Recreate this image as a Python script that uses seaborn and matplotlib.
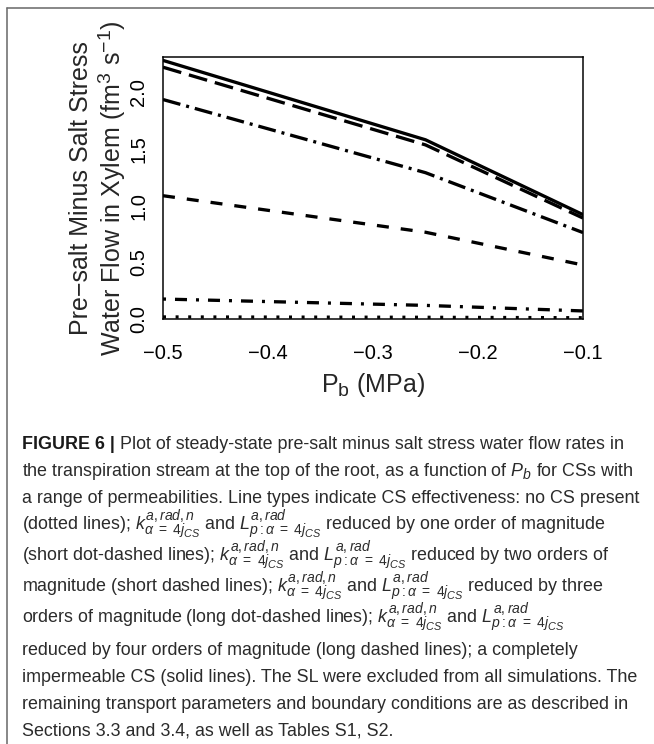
import matplotlib
matplotlib.use("Agg")
import matplotlib.pyplot as plt
import matplotlib._mathtext as _mt
import seaborn as sns
import pandas as pd
from matplotlib.lines import Line2D

# ---------------- data ----------------
pressure = [-0.5, -0.25, -0.1]
flow_impermeable = [2.28, 1.58, 0.92]      # solid
flow_four_orders = [2.22, 1.535, 0.89]     # long dashed
flow_three_orders = [1.935, 1.29, 0.762]   # long dot-dashed
flow_two_orders = [1.087, 0.765, 0.476]    # short dashed
flow_one_order = [0.176, 0.12, 0.071]      # short dot-dashed
flow_no_cs = [0.018, 0.015, 0.011]         # dotted

series_names = ["no CS", "one order", "two orders", "three orders", "four orders", "impermeable"]
series_values = [flow_no_cs, flow_one_order, flow_two_orders,
                 flow_three_orders, flow_four_orders, flow_impermeable]

x_ticks = [-0.5, -0.4, -0.3, -0.2, -0.1]
y_ticks = [0.0, 0.5, 1.0, 1.5, 2.0]

rows = []
for name, vals in zip(series_names, series_values):
    for p, v in zip(pressure, vals):
        rows.append({"P_b": p, "flow": v, "CS": name})
df = pd.DataFrame(rows)

# ---------------- style ----------------
sns.set_style("white")
plt.rcParams["font.family"] = ["Liberation Sans", "DejaVu Sans"]
plt.rcParams["mathtext.fontset"] = "custom"
plt.rcParams["mathtext.rm"] = "Liberation Sans"
plt.rcParams["mathtext.it"] = "Liberation Sans:italic"
plt.rcParams["mathtext.bf"] = "Liberation Sans:bold"
plt.rcParams["lines.scale_dashes"] = False
try:
    _mt.SHRINK_FACTOR = 0.78
except Exception:
    pass

W, H = 654, 744
fig = plt.figure(figsize=(W / 100, H / 100), dpi=100)
fig.patch.set_facecolor("white")

def fx(px):
    return px / W

def fy(py):
    return 1 - py / H

ax_l, ax_r, ax_t, ax_b = 163, 583, 57, 319
ax = fig.add_axes([fx(ax_l), fy(ax_b), (ax_r - ax_l) / W, (ax_b - ax_t) / H])

PX = 0.72  # points per pixel at 100 dpi
dash_map = {
    "impermeable": "",
    "four orders": (19 * PX, 8 * PX),
    "three orders": (18 * PX, 6 * PX, 3 * PX, 6 * PX),
    "two orders": (12 * PX, 12 * PX),
    "one order": (3 * PX, 9 * PX, 12 * PX, 9 * PX),
    "no CS": (3 * PX, 9.6 * PX),
}

sns.lineplot(data=df, x="P_b", y="flow", style="CS", dashes=dash_map,
             style_order=series_names, color="black", linewidth=3.3 * PX,
             legend=False, ax=ax, estimator=None, sort=False)

ax.set_xlim(-0.5, -0.1)
ax.set_ylim(0, 2.31)
ax.set_xticks(x_ticks)
ax.set_yticks(y_ticks)
ax.set_xticklabels([f"{v:.1f}".replace("-", "\u2212") for v in x_ticks])
ax.set_yticklabels([f"{v:.1f}" for v in y_ticks])
for s in ax.spines.values():
    s.set_visible(True)
    s.set_linewidth(1.5 * PX)
    s.set_color("black")
ax.tick_params(axis="both", direction="out", length=15 * PX, width=1.5 * PX,
               color="black", labelsize=14.5, labelcolor="black")
ax.tick_params(axis="x", pad=7)
ax.tick_params(axis="y", labelrotation=90, pad=0)
for lab in ax.get_yticklabels():
    lab.set_va("center")
ax.set_xlabel("")
ax.set_ylabel("")

# axis labels
fig.text(fx(88), fy(188), "Pre\u2212salt Minus Salt Stress", rotation=90,
         rotation_mode="anchor", ha="center", va="baseline", fontsize=18)
fig.text(fx(121), fy(188), r"Water Flow in Xylem (fm$^{3}$ s$^{-1}$)", rotation=90,
         rotation_mode="anchor", ha="center", va="baseline", fontsize=18)
fig.text(fx(373), fy(392), r"P$_{\mathrm{b}}$ (MPa)", ha="center", va="baseline",
         fontsize=18)

# frame of the figure panel
fig.add_artist(Line2D([fx(7), fx(7)], [fy(8), 0], transform=fig.transFigure,
                      color="#6e6e6e", lw=1.6 * PX))
fig.add_artist(Line2D([fx(7), 1], [fy(8), fy(8)], transform=fig.transFigure,
                      color="#6e6e6e", lw=1.6 * PX))

# ---------------- caption ----------------
K = r"$k^{a,rad,n}_{\alpha\ =\ 4j_{CS}}$"
L = r"$L^{a,rad}_{p:\alpha\ =\ 4j_{CS}}$"
cap_lines = [
    "Plot of steady-state pre-salt minus salt stress water flow rates in",
    r"the transpiration stream at the top of the root, as a function of $P_b$ for CSs with",
    "a range of permeabilities. Line types indicate CS effectiveness: no CS present",
    "(dotted lines); " + K + " and " + L + " reduced by one order of magnitude",
    "(short dot-dashed lines); " + K + " and " + L + " reduced by two orders of",
    "magnitude (short dashed lines); " + K + " and " + L + " reduced by three",
    "orders of magnitude (long dot-dashed lines); " + K + " and " + L,
    "reduced by four orders of magnitude (long dashed lines); a completely",
    "impermeable CS (solid lines). The SL were excluded from all simulations. The",
    "remaining transport parameters and boundary conditions are as described in",
    "Sections 3.3 and 3.4, as well as Tables S1, S2.",
]
cap_base = [449, 476, 503, 530, 561, 592, 623, 655, 682, 709, 736]
cap_x = 22
cap_size = 12.9
cap_color = "#2b2b2b"

bold = fig.text(fx(cap_x), fy(cap_base[0]), "FIGURE 6 |", fontsize=cap_size,
                fontweight="bold", ha="left", va="baseline", color="#1a1a1a")
fig.canvas.draw()
bb = bold.get_window_extent(renderer=fig.canvas.get_renderer())
first_x = bb.x1 + 5
for i, (txt, yb) in enumerate(zip(cap_lines, cap_base)):
    xpos = first_x / W if i == 0 else fx(cap_x)
    fig.text(xpos, fy(yb), txt, fontsize=cap_size, ha="left", va="baseline",
             color=cap_color)

fig.savefig("out.png", dpi=100, facecolor="white")
